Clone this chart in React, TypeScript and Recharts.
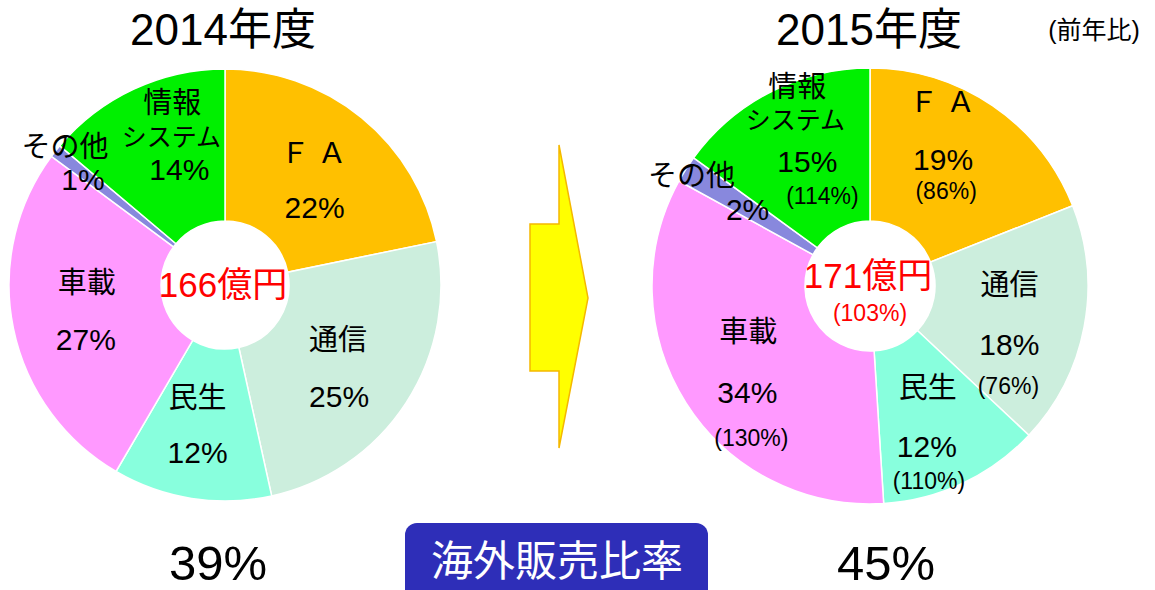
import React from 'react';
import { PieChart, Pie, Cell } from 'recharts';

// ---------- data ----------
const years = ['2014年度', '2015年度'];
const categories = ['FA', '通信', '民生', '車載', 'その他', '情報システム'];
const categoryLabels = [['Ｆ Ａ'], ['通信'], ['民生'], ['車載'], ['その他'], ['情報', 'システム']];
const share2014 = [22, 25, 12, 27, 1, 14];
const share2015 = [19, 18, 12, 34, 2, 15];
const yoy2015: (number | null)[] = [86, 76, 110, 130, null, 114];
const totals = [166, 171];
const totalGrowth = 103;
const overseasRatio = [39, 45];
const colors = ['#FFC000', '#CCEEDD', '#88FFDD', '#FF99FF', '#8888DD', '#00F000'];

// ---------- layout / style ----------
const FONT = "'Liberation Sans', Arial, 'Noto Sans CJK JP', sans-serif";
const RAD = Math.PI / 180;

type SliceLayout = { r: number; off: [number, number][] };
const layout2014: SliceLayout[] = [
  { r: 137, off: [[2, -26], [3, 29]] },
  { r: 142, off: [[-6, -22], [-5, 34]] },
  { r: 145, off: [[-5, -30], [-5, 24]] },
  { r: 140, off: [[-1, -30], [-2, 26]] },
  { r: 190, off: [[-11, -20], [7, 12]] },
  { r: 158, off: [[14, -39], [13, -5], [21, 28]] },
];
const layout2015: SliceLayout[] = [
  { r: 155, off: [[-15, -56], [-14, 2], [-11, 33]] },
  { r: 147, off: [[-5, -29], [-5, 31], [-6, 72]] },
  { r: 150, off: [[-6, -34], [-7, 25], [-5, 59]] },
  { r: 150, off: [[5, -34], [4, 26], [8, 72]] },
  { r: 190, off: [[-18, -8], [38, 25]] },
  { r: 160, off: [[0, -56], [-2, -23], [10, 18], [25, 53]] },
];

const data2014 = categories.map((name, i) => ({ name, value: share2014[i] }));
const data2015 = categories.map((name, i) => ({ name, value: share2015[i], yoy: yoy2015[i] }));

type Line = { t: string; size: number };
function linesFor(i: number, share: number[], yoy?: (number | null)[]): Line[] {
  const out: Line[] = categoryLabels[i].map((t) => ({ t, size: t === 'システム' ? 25 : 29 }));
  out.push({ t: `${share[i]}%`, size: 30 });
  if (yoy && yoy[i] != null) out.push({ t: `(${yoy[i]}%)`, size: 23 });
  return out;
}

function centerText(cx: number, cy: number, total: number, growth?: number) {
  return (
    <g>
      <text x={cx - 2} y={growth ? cy - 11 : cy - 1} textAnchor="middle" dominantBaseline="central" fontSize={35} fontFamily={FONT} fill="#FF0000">
        {`${total}億円`}
      </text>
      {growth ? (
        <text x={cx} y={cy + 27} textAnchor="middle" dominantBaseline="central" fontSize={23} fontFamily={FONT} fill="#FF0000">
          {`(${growth}%)`}
        </text>
      ) : null}
    </g>
  );
}

function makeLabel(layout: SliceLayout[], share: number[], total: number, yoy?: (number | null)[], growth?: number) {
  return (props: any) => {
    const { cx, cy, midAngle, index } = props;
    const l = layout[index];
    const ax = cx + l.r * Math.cos(-midAngle * RAD);
    const ay = cy + l.r * Math.sin(-midAngle * RAD);
    const lines = linesFor(index, share, yoy);
    return (
      <g key={`lbl-${index}`}>
        {index === 0 ? centerText(cx, cy, total, growth) : null}
        {lines.map((ln, k) => (
          <text
            key={k}
            x={ax + l.off[k][0]}
            y={ay + l.off[k][1]}
            textAnchor="middle"
            dominantBaseline="central"
            fontSize={ln.size}
            fontFamily={FONT}
            fill="#000"
          >
            {ln.t}
          </text>
        ))}
      </g>
    );
  };
}

export default function App() {
  return (
    <div style={{ position: 'absolute', left: 0, top: 0, width: 1155, height: 590, overflow: 'hidden', background: '#fff' }}>
      <svg width={1155} height={590} style={{ position: 'absolute', left: 0, top: 0 }}>
        <text x={223} y={29} textAnchor="middle" dominantBaseline="central" fontSize={44} fontFamily={FONT} fill="#000">{years[0]}</text>
        <text x={869} y={29} textAnchor="middle" dominantBaseline="central" fontSize={44} fontFamily={FONT} fill="#000">{years[1]}</text>
        <text x={1094} y={30} textAnchor="middle" dominantBaseline="central" fontSize={25} fontFamily={FONT} fill="#000">(前年比)</text>
        <polygon
          points="559,145 588,298 559,448 559,371 530,371 530,224 559,224"
          fill="#FFFF00"
          stroke="#F5B800"
          strokeWidth={1.5}
        />
        <rect x={405} y={523} width={303} height={90} rx={12} ry={12} fill="#2E2EB8" />
        <text x={557} y={561} textAnchor="middle" dominantBaseline="central" fontSize={42} fontFamily={FONT} fill="#FFFFFF">海外販売比率</text>
        <text x={218} y={563} textAnchor="middle" dominantBaseline="central" fontSize={49} fontFamily={FONT} fill="#000">{`${overseasRatio[0]}%`}</text>
        <text x={886} y={563} textAnchor="middle" dominantBaseline="central" fontSize={49} fontFamily={FONT} fill="#000">{`${overseasRatio[1]}%`}</text>
      </svg>
      <div style={{ position: 'absolute', left: 0, top: 0 }}>
        <PieChart width={1155} height={590} margin={{ top: 0, right: 0, bottom: 0, left: 0 }}>
          <Pie
            data={data2014}
            dataKey="value"
            nameKey="name"
            cx={225}
            cy={285}
            innerRadius={64}
            outerRadius={216}
            startAngle={90}
            endAngle={-270}
            stroke="#FFFFFF"
            strokeWidth={1.5}
            isAnimationActive={false}
            labelLine={false}
            label={makeLabel(layout2014, share2014, totals[0])}
          >
            {data2014.map((d, i) => (
              <Cell key={d.name} fill={colors[i]} />
            ))}
          </Pie>
          <Pie
            data={data2015}
            dataKey="value"
            nameKey="name"
            cx={870}
            cy={286}
            innerRadius={65}
            outerRadius={218}
            startAngle={90}
            endAngle={-270}
            stroke="#FFFFFF"
            strokeWidth={1.5}
            isAnimationActive={false}
            labelLine={false}
            label={makeLabel(layout2015, share2015, totals[1], yoy2015, totalGrowth)}
          >
            {data2015.map((d, i) => (
              <Cell key={d.name} fill={colors[i]} />
            ))}
          </Pie>
        </PieChart>
      </div>
    </div>
  );
}
